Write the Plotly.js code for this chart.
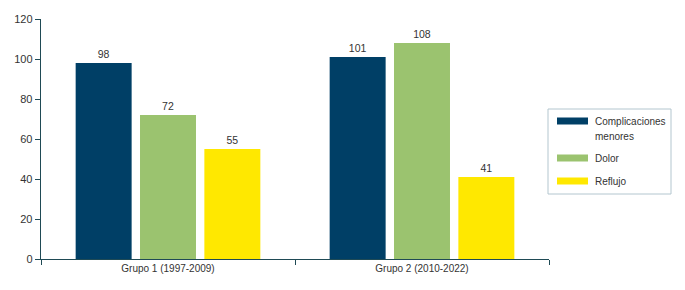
<!DOCTYPE html>
<html>
<head>
<meta charset="utf-8">
<script src="https://cdn.plot.ly/plotly-3.0.1.min.js"></script>
<style>html,body{margin:0;padding:0;background:#fff;}#chart{width:685px;height:290px;}</style>
</head>
<body>
<div id="chart"></div>
<script>
var categories = ['Grupo 1 (1997-2009)', 'Grupo 2 (2010-2022)'];
var seriesNames = ['Complicaciones menores', 'Dolor', 'Reflujo'];
var complicaciones = [98, 101];
var dolor = [72, 108];
var reflujo = [55, 41];
var yTicks = [0, 20, 40, 60, 80, 100, 120];

var colors = ['#003f66', '#9bc36f', '#ffe800'];
var values = [complicaciones, dolor, reflujo];
var font = '"Liberation Sans", Arial, sans-serif';
var textColor = '#333333';
var axisColor = '#1f4a55';

var traces = values.map(function (v, i) {
  return {
    type: 'bar',
    x: categories,
    y: v,
    name: seriesNames[i],
    marker: { color: colors[i] },
    text: v.map(String),
    textposition: 'outside',
    cliponaxis: false,
    textfont: { family: font, size: 10.5, color: textColor },
    hoverinfo: 'none'
  };
});

// custom legend (paper coords), plot area: x 41..549, y 19..259
function px2x(px) { return (px - 41) / 508; }
function px2y(py) { return (259 - py) / 240; }

var shapes = [{
  type: 'rect', xref: 'paper', yref: 'paper',
  x0: px2x(548), x1: px2x(671), y0: px2y(194), y1: px2y(109),
  line: { color: '#b3c6cf', width: 1 }, fillcolor: 'rgba(0,0,0,0)'
}];
var annotations = [];
var swatchY = [121, 158, 181];
seriesNames.forEach(function (n, i) {
  shapes.push({
    type: 'rect', xref: 'paper', yref: 'paper',
    x0: px2x(557), x1: px2x(588), y0: px2y(swatchY[i] + 3.5), y1: px2y(swatchY[i] - 3.5),
    line: { width: 0 }, fillcolor: colors[i]
  });
  var words = n.split(' ');
  var lines = words.length > 1 && n.length > 14 ? words : [n];
  lines.forEach(function (w, k) {
    annotations.push({
      xref: 'paper', yref: 'paper', x: px2x(593), y: px2y(swatchY[i] + k * 15),
      xanchor: 'left', yanchor: 'middle', showarrow: false, text: w,
      font: { family: font, size: 10, color: textColor }
    });
  });
});

var layout = {
  width: 685, height: 290,
  margin: { l: 41, r: 136, t: 19, b: 31, pad: 0 },
  paper_bgcolor: '#ffffff', plot_bgcolor: '#ffffff',
  font: { family: font, color: textColor },
  showlegend: false,
  barmode: 'group',
  bargap: 0.24,
  bargroupgap: 0.13,
  xaxis: {
    type: 'category',
    tickson: 'boundaries',
    ticks: 'outside', ticklen: 5, tickwidth: 1, tickcolor: axisColor,
    showline: true, linecolor: axisColor, linewidth: 1.3,
    showgrid: false, zeroline: false,
    tickfont: { family: font, size: 10, color: textColor }
  },
  yaxis: {
    range: [0, 120],
    tickvals: yTicks,
    ticktext: yTicks.map(String),
    ticks: 'outside', ticklen: 5, tickwidth: 1, tickcolor: axisColor,
    showline: true, linecolor: axisColor, linewidth: 1.3,
    showgrid: false, zeroline: false,
    tickfont: { family: font, size: 11, color: textColor }
  },
  shapes: shapes,
  annotations: annotations
};

Plotly.newPlot('chart', traces, layout, { displayModeBar: false, staticPlot: true });
</script>
</body>
</html>
